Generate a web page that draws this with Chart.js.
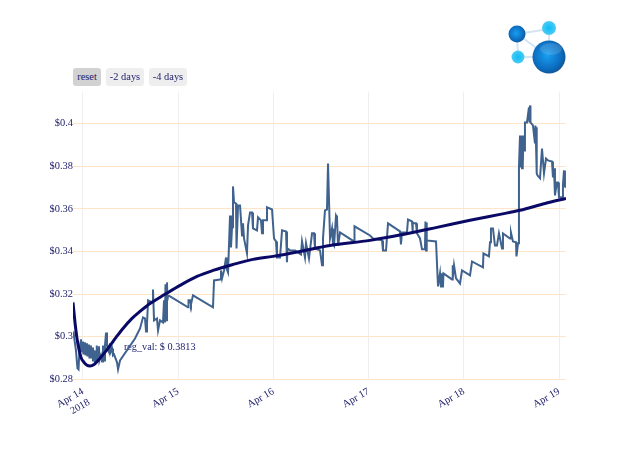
<!DOCTYPE html>
<html>
<head>
<meta charset="utf-8">
<script src="https://cdn.jsdelivr.net/npm/chart.js@4"></script>
<style>
    body { margin: 0; background: #fff; font-family: "Liberation Serif", serif; }
    #wrap { position: relative; width: 640px; height: 457px; overflow: hidden; }
    canvas { position: absolute; left: 0; top: 0; }
    .btn { position: absolute; top: 68px; height: 18px; line-height: 18px; text-align: center;
           font-size: 10.4px; color: #22226e; background: #eeeeee; border-radius: 3px; }
    #logo { position: absolute; left: 495px; top: 10px; }
</style>
</head>
<body>
<div id="wrap">
    <canvas id="myChart" width="640" height="457"></canvas>
    <div class="btn" style="left:73px;width:28px;background:#d2d2d2">reset</div>
    <div class="btn" style="left:106px;width:38px">-2 days</div>
    <div class="btn" style="left:149px;width:38px">-4 days</div>
    <svg id="logo" width="85" height="70">
        <defs>
            <radialGradient id="dark" cx="45%" cy="45%" r="60%">
                <stop offset="0" stop-color="#1a9ef0"/>
                <stop offset="0.7" stop-color="#0b6dc0"/>
                <stop offset="1" stop-color="#14508c"/>
            </radialGradient>
            <radialGradient id="light" cx="50%" cy="50%" r="55%">
                <stop offset="0" stop-color="#0cbcf8"/>
                <stop offset="1" stop-color="#55cdf2"/>
            </radialGradient>
        </defs>
        <g stroke="#d4e4f3" stroke-width="2">
            <line x1="22" y1="24" x2="54" y2="19"/>
            <line x1="22" y1="24" x2="23" y2="47"/>
            <line x1="22" y1="24" x2="54" y2="47"/>
            <line x1="54" y1="19" x2="54" y2="47"/>
            <line x1="23" y1="47" x2="54" y2="47"/>
        </g>
        <circle cx="22" cy="24" r="8.5" fill="url(#dark)"/>
        <circle cx="54" cy="18" r="7" fill="url(#light)"/>
        <circle cx="23" cy="47" r="6.5" fill="url(#light)"/>
        <circle cx="54" cy="47" r="16.5" fill="url(#dark)"/>
        <ellipse cx="56" cy="39" rx="11" ry="6" fill="#fff" opacity="0.14"/>
    </svg>
</div>
<script>
// days since Apr 14 2018 00:00, prices
const days = [-0.100,-0.089,-0.074,-0.058,-0.047,-0.037,-0.021,-0.016,0,0.005,0.021,0.026,0.042,0.047,0.063,0.068,0.084,0.089,0.100,0.105,0.116,0.126,0.137,0.142,0.147,0.168,0.173,0.189,0.200,0.210,0.221,0.231,0.242,0.252,0.263,0.273,0.284,0.289,0.305,0.315,0.326,0.357,0.368,0.378,0.389,0.546,0.599,0.630,0.651,0.662,0.672,0.683,0.725,0.735,0.746,0.777,0.788,0.809,0.840,0.851,0.861,0.866,0.872,0.882,0.887,0.893,0.914,1.103,1.108,1.124,1.134,1.155,1.365,1.376,1.439,1.449,1.460,1.481,1.502,1.507,1.523,1.544,1.554,1.565,1.575,1.586,1.607,1.612,1.628,1.649,1.670,1.680,1.691,1.722,1.733,1.754,1.775,1.785,1.827,1.838,1.869,1.880,1.890,1.922,1.932,1.985,2.006,2.027,2.037,2.069,2.090,2.132,2.142,2.147,2.174,2.226,2.289,2.300,2.331,2.342,2.373,2.405,2.426,2.436,2.489,2.510,2.520,2.541,2.562,2.573,2.594,2.615,2.625,2.636,2.657,2.667,2.678,2.699,2.846,2.851,3.014,3.045,3.140,3.150,3.182,3.203,3.329,3.339,3.350,3.402,3.413,3.455,3.460,3.465,3.497,3.507,3.539,3.560,3.591,3.596,3.602,3.607,3.612,3.707,3.728,3.749,3.759,3.770,3.780,3.785,3.875,3.880,3.885,3.896,3.917,3.959,3.980,4.064,4.085,4.200,4.205,4.263,4.274,4.284,4.305,4.326,4.347,4.368,4.400,4.410,4.484,4.494,4.515,4.547,4.552,4.568,4.578,4.589,4.599,4.604,4.610,4.615,4.620,4.625,4.631,4.641,4.662,4.683,4.688,4.694,4.699,4.725,4.746,4.751,4.757,4.762,4.767,4.772,4.799,4.820,4.830,4.841,4.862,4.883,4.925,4.935,4.946,4.956,4.977,4.988,4.998,5.030,5.040,5.051,5.061,5.072];
const prices = [0.3025,0.2983,0.2936,0.2852,0.2847,0.2936,0.2988,0.2927,0.2978,0.2917,0.2974,0.2913,0.2969,0.2908,0.2964,0.2898,0.2959,0.2898,0.2950,0.2884,0.2936,0.2880,0.2927,0.2959,0.2889,0.2955,0.2889,0.2913,0.2884,0.2959,0.2889,0.2959,0.3020,0.2959,0.2936,0.2927,0.2969,0.2927,0.2945,0.2913,0.2917,0.2880,0.2847,0.2847,0.2889,0.2992,0.3039,0.3091,0.3086,0.3025,0.3058,0.3171,0.3161,0.3222,0.3077,0.3086,0.3030,0.3077,0.3067,0.3171,0.3067,0.3246,0.3077,0.3255,0.3171,0.3194,0.3189,0.3138,0.3171,0.3171,0.3152,0.3194,0.3138,0.3264,0.3269,0.3311,0.3274,0.3311,0.3372,0.3321,0.3302,0.3569,0.3419,0.3513,0.3705,0.3630,0.3625,0.3414,0.3616,0.3616,0.3475,0.3532,0.3461,0.3391,0.3522,0.3583,0.3583,0.3508,0.3499,0.3560,0.3546,0.3485,0.3546,0.3546,0.3607,0.3597,0.3461,0.3447,0.3372,0.3372,0.3499,0.3494,0.3349,0.3414,0.3405,0.3405,0.3386,0.3447,0.3372,0.3438,0.3367,0.3485,0.3485,0.3414,0.3405,0.3335,0.3461,0.3593,0.3597,0.3813,0.3461,0.3508,0.3438,0.3428,0.3569,0.3560,0.3428,0.3489,0.3447,0.3518,0.3475,0.3461,0.3452,0.3405,0.3405,0.3532,0.3494,0.3433,0.3489,0.3489,0.3550,0.3541,0.3489,0.3532,0.3532,0.3485,0.3461,0.3410,0.3410,0.3541,0.3405,0.3536,0.3452,0.3447,0.3236,0.3297,0.3231,0.3297,0.3231,0.3297,0.3269,0.3335,0.3274,0.3335,0.3274,0.3250,0.3311,0.3288,0.3353,0.3325,0.3391,0.3377,0.3443,0.3508,0.3508,0.3428,0.3428,0.3485,0.3414,0.3485,0.3461,0.3489,0.3447,0.3443,0.3377,0.3438,0.3794,0.3944,0.3794,0.3944,0.3790,0.3944,0.3790,0.3944,0.3874,0.4005,0.4005,0.4076,0.4005,0.4085,0.4005,0.3991,0.3907,0.3991,0.3907,0.3982,0.3766,0.3757,0.3743,0.3883,0.3883,0.3766,0.3836,0.3827,0.3822,0.3747,0.3790,0.3663,0.3724,0.3724,0.3654,0.3654,0.3710,0.3780,0.3705,0.3700];

// regression curve
const regDays = [-0.105,-0.084,-0.063,-0.042,-0.021,0.0105,0.042,0.074,0.116,0.158,0.221,0.284,0.347,0.420,0.515,0.599,0.704,0.861,1.019,1.197,1.365,1.575,1.785,1.995,2.279,2.594,3.014,3.360,3.717,4.064,4.379,4.589,4.851,5.072];
const regPrices = [0.3161,0.3067,0.2992,0.2941,0.2903,0.2880,0.2866,0.2863,0.2870,0.2889,0.2922,0.2959,0.2997,0.3039,0.3086,0.3119,0.3156,0.3199,0.3241,0.3283,0.3311,0.3339,0.3363,0.3377,0.3400,0.3428,0.3452,0.3480,0.3513,0.3546,0.3574,0.3593,0.3625,0.3649];

const xTicks = [0, 1, 2, 3, 4, 5];
const xTickLabels = [["Apr 14", "2018"], "Apr 15", "Apr 16", "Apr 17", "Apr 18", "Apr 19"];
const yTicks = [0.28, 0.30, 0.32, 0.34, 0.36, 0.38, 0.40];
const yTickLabels = ["$0.28", "$0.3", "$0.32", "$0.34", "$0.36", "$0.38", "$0.4"];

const noteText = "reg_val: $ 0.3813";
const noteDay = 0.43;
const notePrice = 0.295;

const font = { family: "'Liberation Serif', serif", size: 10.4 };
const textColor = "#22226e";

const notePlugin = {
    id: "note",
    beforeDatasetsDraw(chart) {
        const ctx = chart.ctx;
        ctx.save();
        ctx.font = "10.2px 'Liberation Serif', serif";
        ctx.fillStyle = textColor;
        ctx.textBaseline = "middle";
        ctx.fillText(noteText, chart.scales.x.getPixelForValue(noteDay), chart.scales.y.getPixelForValue(notePrice));
        ctx.restore();
    }
};

new Chart(document.getElementById("myChart").getContext("2d"), {
    type: "scatter",
    data: {
        datasets: [
            {
                label: "reg_val",
                data: regDays.map((d, i) => ({ x: d, y: regPrices[i] })),
                showLine: true,
                pointRadius: 0,
                borderColor: "#0a0a66",
                borderWidth: 3,
                cubicInterpolationMode: "monotone"
            },
            {
                label: "price",
                data: days.map((d, i) => ({ x: d, y: prices[i] })),
                showLine: true,
                pointRadius: 0,
                borderColor: "#3f628e",
                borderWidth: 2,
                tension: 0
            }
        ]
    },
    options: {
        responsive: false,
        animation: false,
        layout: { padding: { top: 92.4, right: 74, left: 0, bottom: 0 } },
        plugins: { legend: { display: false }, tooltip: { enabled: false } },
        scales: {
            x: {
                type: "linear",
                min: -0.105,
                max: 5.072,
                afterBuildTicks: axis => { axis.ticks = xTicks.map(v => ({ value: v })); },
                afterFit: axis => { axis.height = 77.6; },
                grid: { color: "#eeeeee", lineWidth: 1, drawTicks: false },
                border: { display: false },
                ticks: {
                    font: font,
                    color: textColor,
                    padding: 6,
                    autoSkip: false,
                    minRotation: 30,
                    maxRotation: 30,
                    callback: v => xTickLabels[xTicks.indexOf(v)]
                }
            },
            y: {
                min: 0.28,
                max: 0.4146,
                afterBuildTicks: axis => { axis.ticks = yTicks.map(v => ({ value: v })); },
                afterFit: axis => { axis.width = 73; },
                grid: { color: "#ffe4c8", lineWidth: 1, drawTicks: false },
                border: { display: false },
                ticks: {
                    font: font,
                    color: textColor,
                    padding: 0,
                    callback: v => yTickLabels[yTicks.indexOf(v)]
                }
            }
        }
    },
    plugins: [notePlugin]
});
</script>
</body>
</html>
